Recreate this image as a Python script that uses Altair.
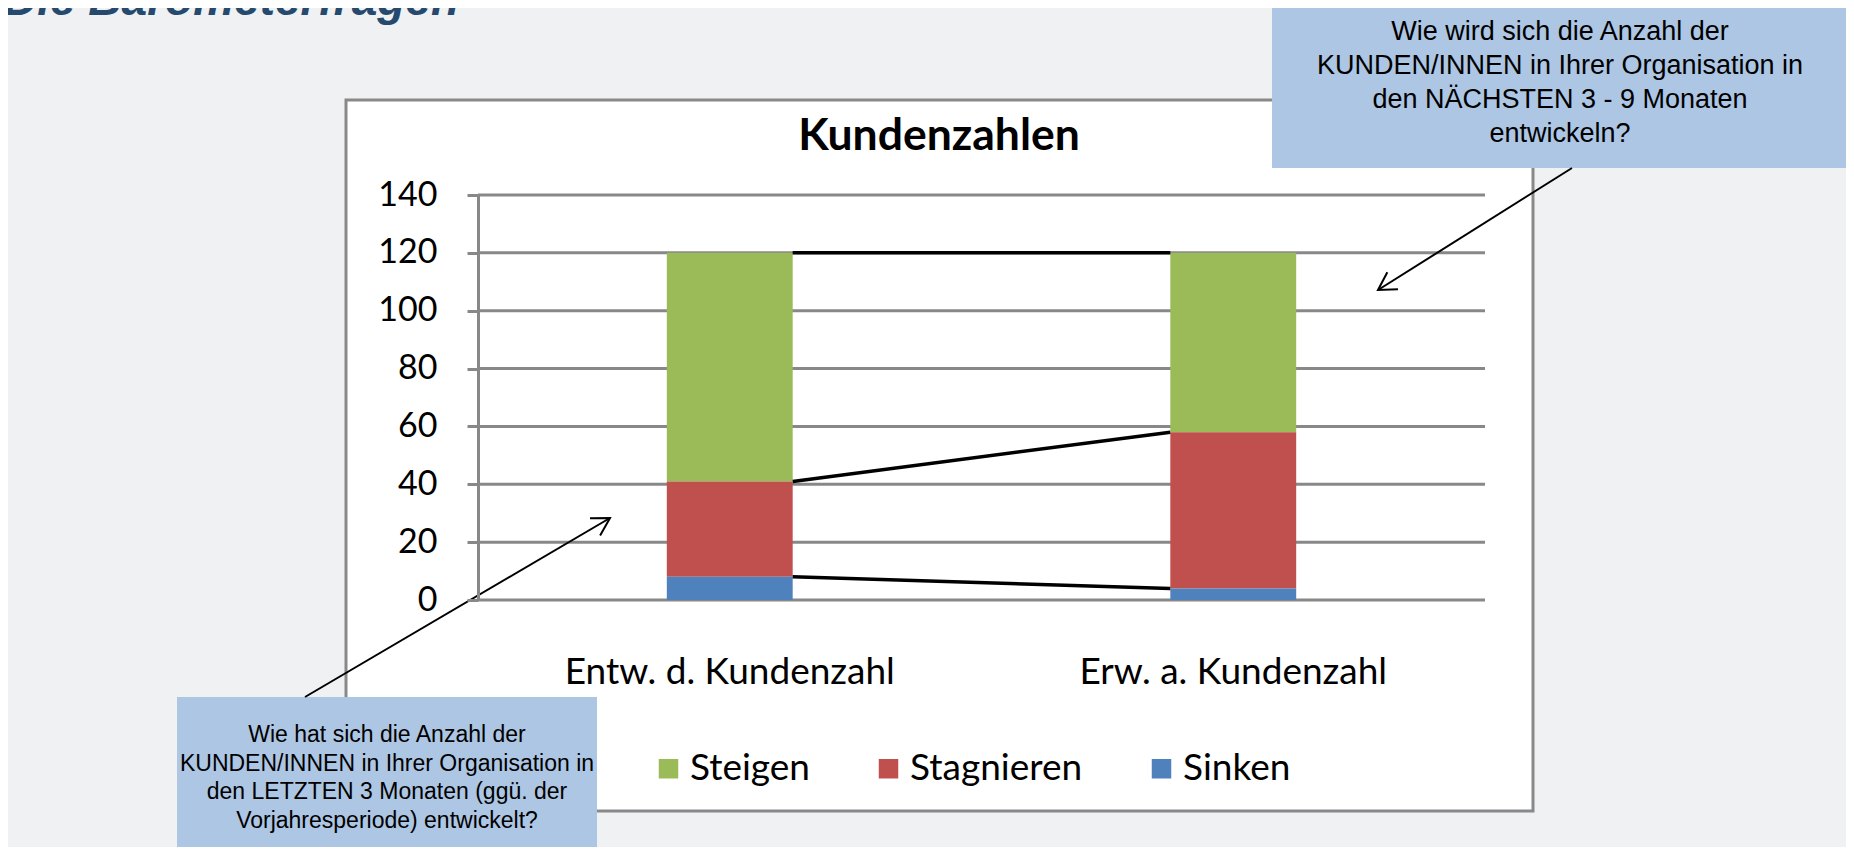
import altair as alt
import pandas as pd

# ---------------- data ----------------
categories = ["Entw. d. Kundenzahl", "Erw. a. Kundenzahl"]
series = ["Steigen", "Stagnieren", "Sinken"]
colors = ["#9bbb59", "#c0504d", "#4f81bd"]
steigen = [79, 62]
stagnieren = [33, 54]
sinken = [8, 4]
y_ticks = [0, 20, 40, 60, 80, 100, 120, 140]

chart_title = "Kundenzahlen"
page_title = "Die Barometerfragen"
note_top = "Wie wird sich die Anzahl der\nKUNDEN/INNEN in Ihrer Organisation in\nden NÄCHSTEN 3 - 9 Monaten\nentwickeln?"
note_bottom = "Wie hat sich die Anzahl der\nKUNDEN/INNEN in Ihrer Organisation in\nden LETZTEN 3 Monaten (ggü. der\nVorjahresperiode) entwickelt?"

values = {"Steigen": steigen, "Stagnieren": stagnieren, "Sinken": sinken}
stack_order = {"Sinken": 0, "Stagnieren": 1, "Steigen": 2}
rows = []
for s in series:
    for c, v in zip(categories, values[s]):
        rows.append({"cat": c, "serie": s, "wert": v, "ord": stack_order[s]})
bars_df = pd.DataFrame(rows)

# Excel-style series lines connecting the segment tops
line_rows = []
cum = [0, 0]
for s in ["Sinken", "Stagnieren", "Steigen"]:
    cum = [cum[i] + values[s][i] for i in range(2)]
    line_rows.append({"von": categories[0], "bis": categories[1], "y1": cum[0], "y2": cum[1]})
lines_df = pd.DataFrame(line_rows)

one = pd.DataFrame({"k": [0]})
GRAY = "#888888"

# ---------------- layers ----------------
frame = alt.Chart(one).mark_rect(fill="white", stroke="#898989", strokeWidth=3).encode(
    x=alt.value(-132), x2=alt.value(1055), y=alt.value(-95), y2=alt.value(616)
)

grid = alt.Chart(pd.DataFrame({"v": y_ticks})).mark_rule(color=GRAY, strokeWidth=3).encode(
    y=alt.Y("v:Q", title=None)
)

bars = alt.Chart(bars_df).mark_bar().encode(
    x=alt.X(
        "cat:N",
        title=None,
        scale=alt.Scale(domain=categories, paddingInner=0.75, paddingOuter=0.375),
        axis=alt.Axis(
            domain=False, ticks=False, labelFont="Lato", labelFontSize=37,
            labelColor="black", labelPadding=83, labelBaseline="alphabetic",
            labelAngle=0, labelLimit=0, zindex=1,
        ),
    ),
    y=alt.Y(
        "wert:Q",
        title=None,
        stack="zero",
        scale=alt.Scale(domain=[0, 140], nice=False),
        axis=alt.Axis(
            values=y_ticks, grid=False, domainColor=GRAY, domainWidth=3,
            tickColor=GRAY, tickWidth=3, tickSize=11, labelFont="Lato",
            labelFontSize=34, labelColor="black", labelPadding=30, zindex=1,
        ),
    ),
    color=alt.Color(
        "serie:N",
        scale=alt.Scale(domain=series, range=colors),
        legend=alt.Legend(
            title=None, orient="none", legendX=172, legendY=555,
            direction="horizontal", symbolType="square", symbolSize=380,
            symbolStrokeWidth=0, symbolOpacity=1, labelFont="Lato",
            labelFontSize=37, labelColor="black", labelOffset=3,
            labelLimit=0, columnPadding=60, padding=0,
        ),
    ),
    order=alt.Order("ord:Q", sort="ascending"),
)

slines = alt.Chart(lines_df).mark_rule(color="black", strokeWidth=3.5).encode(
    x=alt.X("von:N", title=None, bandPosition=1),
    x2=alt.X2("bis", bandPosition=0),
    y=alt.Y("y1:Q", title=None),
    y2=alt.Y2("y2"),
)

title_txt = alt.Chart(one).mark_text(
    font="Lato", fontSize=44.5, fontWeight="bold", color="black",
    align="center", baseline="alphabetic",
).encode(x=alt.value(461), y=alt.value(-45), text=alt.value(chart_title))

page_txt = alt.Chart(one).mark_text(
    font="Liberation Sans", fontSize=46, fontWeight="bold", fontStyle="italic",
    color="#264a6e", align="left", baseline="alphabetic",
).encode(x=alt.value(-474), y=alt.value(-180), text=alt.value(page_title))

box_top = alt.Chart(one).mark_rect(fill="#adc6e3").encode(
    x=alt.value(794), x2=alt.value(1371), y=alt.value(-188), y2=alt.value(-27)
)
box_bot = alt.Chart(one).mark_rect(fill="#adc6e3").encode(
    x=alt.value(-301), x2=alt.value(119), y=alt.value(502), y2=alt.value(660)
)

# multi-line text: y is the centre of the first line
txt_top = alt.Chart(one).mark_text(
    font="Liberation Sans", fontSize=27, color="black", align="center",
    baseline="middle", lineBreak="\n", lineHeight=34,
).encode(x=alt.value(1082), y=alt.value(-163), text=alt.value(note_top))

txt_bot = alt.Chart(one).mark_text(
    font="Liberation Sans", fontSize=23, color="black", align="center",
    baseline="middle", lineBreak="\n", lineHeight=28.5,
).encode(x=alt.value(-91), y=alt.value(540), text=alt.value(note_bottom))

ARROW = "M-0.5,0.866L0,0L0.5,0.866"
arr_top = alt.Chart(one).mark_rule(color="black", strokeWidth=2).encode(
    x=alt.value(1094), y=alt.value(-27), x2=alt.value(900), y2=alt.value(95)
)
head_top = alt.Chart(one).mark_point(
    shape=ARROW, filled=False, stroke="black", strokeWidth=2, size=1600, angle=237.8, opacity=1
).encode(x=alt.value(900), y=alt.value(95))
arr_bot = alt.Chart(one).mark_rule(color="black", strokeWidth=2).encode(
    x=alt.value(-173), y=alt.value(502), x2=alt.value(132), y2=alt.value(323)
)
head_bot = alt.Chart(one).mark_point(
    shape=ARROW, filled=False, stroke="black", strokeWidth=2, size=1600, angle=59.6, opacity=1
).encode(x=alt.value(132), y=alt.value(323))

chart = alt.layer(
    frame, grid, bars, slines, title_txt, page_txt,
    box_top, box_bot, txt_top, txt_bot, arr_top, head_top, arr_bot, head_bot,
).properties(
    width=1007,
    height=405,
    autosize=alt.AutoSizeParams(type="none"),
    padding={"left": 470, "top": 187, "right": 361, "bottom": 247},
    background="#eff1f3",
).configure_view(strokeWidth=0)

chart.save("out.html", embed_options={"renderer": "svg", "actions": False})
